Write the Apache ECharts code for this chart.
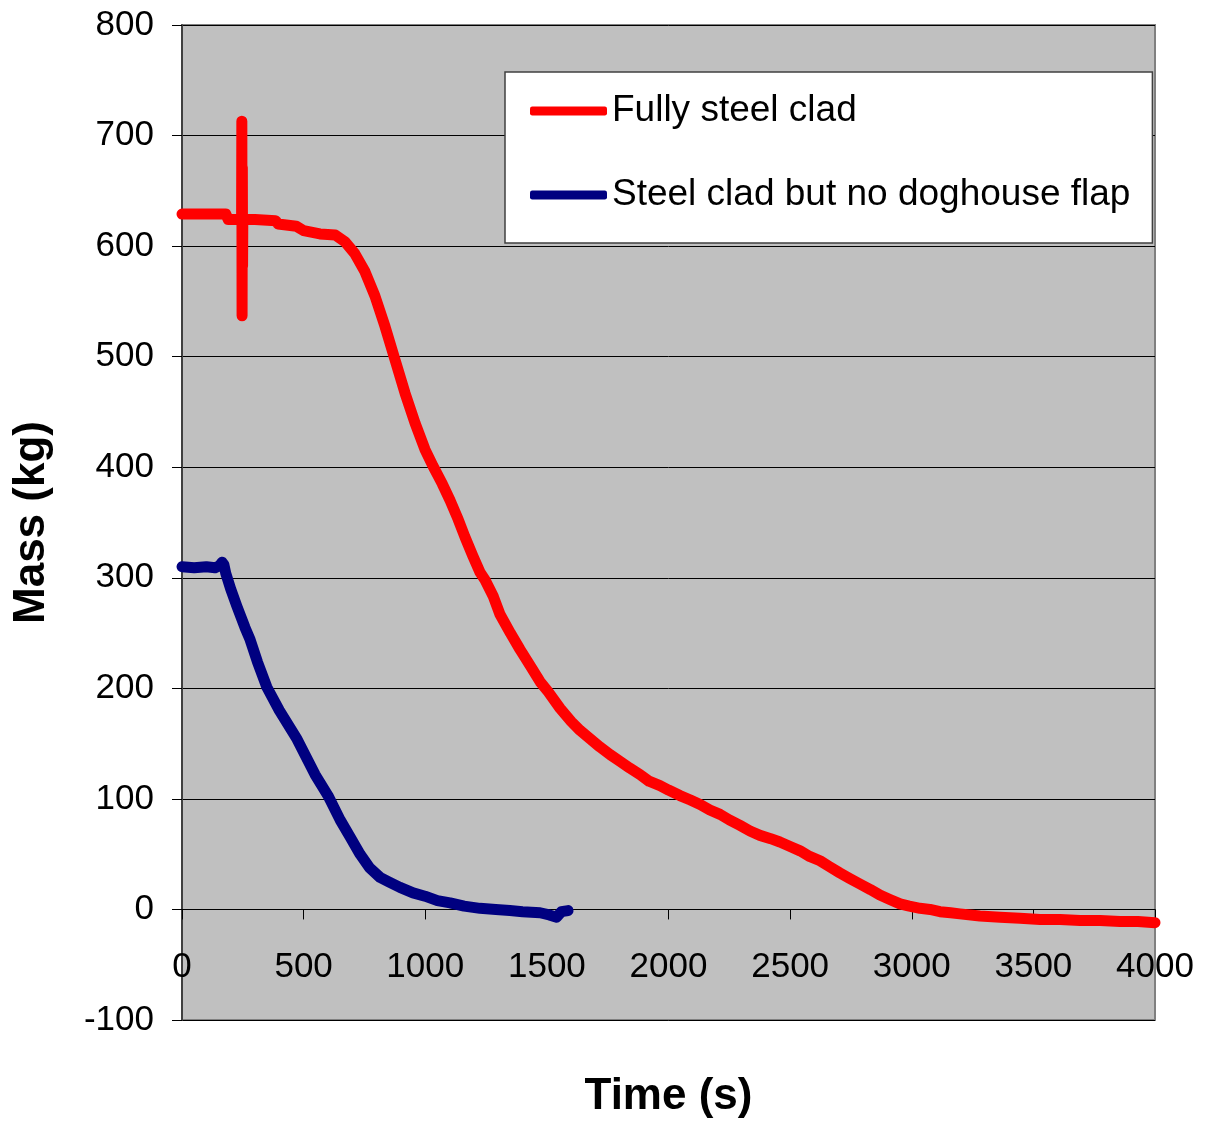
<!DOCTYPE html>
<html>
<head>
<meta charset="utf-8">
<script src="https://cdn.jsdelivr.net/npm/echarts@6/dist/echarts.min.js"></script>
<style>html,body{margin:0;padding:0;background:#fff}#c{width:1207px;height:1122px}</style>
</head>
<body>
<div id="c"></div>
<script>
const seriesNames = ['Fully steel clad', 'Steel clad but no doghouse flap'];
const timeRed = [0, 60, 120, 180, 190, 245, 246, 247, 248, 249, 250, 300, 385, 395, 470, 500, 567, 630, 670, 711, 752, 793, 835, 876, 917, 958, 999, 1032, 1070, 1102, 1135, 1163, 1195, 1225, 1246, 1280, 1307, 1350, 1390, 1430, 1472, 1505, 1554, 1600, 1636, 1680, 1718, 1760, 1800, 1840, 1883, 1920, 1965, 2000, 2047, 2090, 2130, 2170, 2212, 2250, 2294, 2335, 2376, 2420, 2458, 2500, 2541, 2580, 2623, 2660, 2705, 2745, 2787, 2830, 2869, 2910, 2952, 2990, 3034, 3075, 3116, 3160, 3198, 3280, 3363, 3445, 3527, 3610, 3692, 3775, 3856, 3930, 4000];
const massRed = [629, 629, 629, 629, 624, 624, 713, 537, 671, 582, 624, 624, 623, 620, 618, 614, 611, 610, 604, 593, 577, 555, 527, 497, 467, 440, 416, 401, 385, 370, 353, 337, 320, 305, 298, 283, 267, 250, 235, 221, 206, 197, 182, 170, 162, 154, 147, 140, 134, 128, 122, 116, 112, 108, 103, 99, 95, 90, 86, 81, 76, 71, 67, 64, 61, 57, 53, 48, 44, 39, 33, 28, 23, 18, 13, 9, 5, 3, 1, 0, -2, -3, -4, -6, -7, -8, -9, -9, -10, -10, -11, -11, -12];
const timeBlue = [0, 50, 100, 136, 155, 165, 172, 180, 200, 226, 259, 280, 310, 349, 400, 473, 547, 600, 650, 690, 732, 770, 814, 850, 896, 950, 999, 1050, 1102, 1160, 1225, 1290, 1348, 1400, 1472, 1510, 1540, 1560, 1587];
const massBlue = [310, 309, 310, 309, 311, 314, 312, 304, 290, 274, 255, 244, 224, 201, 180, 154, 122, 103, 81, 66, 50, 38, 29, 25, 20, 15, 12, 8, 6, 3, 1, 0, -1, -2, -3, -5, -7, -2, -1];
const xTicks = [0, 500, 1000, 1500, 2000, 2500, 3000, 3500, 4000];
const yTicks = [-100, 0, 100, 200, 300, 400, 500, 600, 700, 800];

const pairs = (t, m) => t.map((v, i) => [v, m[i]]);
const font = '"Liberation Sans", Arial, sans-serif';
const gridTop = 25, gridBottom = 102, chartH = 1122;
const plotH = chartH - gridTop - gridBottom;
const yMin = yTicks[0], yMax = yTicks[yTicks.length - 1];
// shift the x axis up so it crosses the y axis at 0
const xAxisOffset = -plotH * (0 - yMin) / (yMax - yMin);

const chart = echarts.init(document.getElementById('c'), null, {renderer: 'canvas'});
chart.setOption({
  animation: false,
  backgroundColor: '#ffffff',
  grid: {left: 182, top: gridTop, right: 52, bottom: gridBottom, containLabel: false, outerBoundsMode: 'none',
         show: true, backgroundColor: '#c0c0c0', borderColor: '#808080', borderWidth: 2},
  legend: {
    orient: 'vertical', left: 505, top: 72,
    backgroundColor: '#ffffff', borderColor: '#404040', borderWidth: 1.5,
    padding: [19, 22, 28, 25], itemGap: 44,
    itemWidth: 77, itemHeight: 9, icon: 'roundRect',
    textStyle: {fontFamily: font, fontSize: 37, color: '#000', lineHeight: 40},
    data: seriesNames
  },
  xAxis: {
    type: 'value', min: xTicks[0], max: xTicks[xTicks.length - 1], interval: 500,
    position: 'bottom', offset: xAxisOffset,
    axisLine: {onZero: false, lineStyle: {color: '#000', width: 1}},
    axisTick: {show: true, length: 10, lineStyle: {color: '#000'}},
    axisLabel: {fontFamily: font, fontSize: 35, color: '#000', margin: 40, showMaxLabel: true, showMinLabel: true,
                formatter: v => String(v)},
    splitLine: {show: false},
    name: 'Time (s)', nameLocation: 'middle', nameGap: 165,
    nameTextStyle: {fontFamily: font, fontSize: 44, fontWeight: 'bold', color: '#000'}
  },
  yAxis: {
    type: 'value', min: yMin, max: yMax, interval: 100,
    axisLine: {show: true, onZero: false, lineStyle: {color: '#404040', width: 2}},
    axisTick: {show: true, length: 10, lineStyle: {color: '#000'}},
    axisLabel: {fontFamily: font, fontSize: 35, color: '#000', margin: 28, formatter: v => String(v)},
    splitLine: {show: true, lineStyle: {color: '#000', width: 1}},
    name: 'Mass (kg)', nameLocation: 'middle', nameGap: 128, nameRotate: 90,
    nameTextStyle: {fontFamily: font, fontSize: 44, fontWeight: 'bold', color: '#000'}
  },
  series: [
    {name: seriesNames[0], type: 'line', data: pairs(timeRed, massRed), showSymbol: false, symbol: 'none',
     color: '#ff0000', lineStyle: {color: '#ff0000', width: 11, cap: 'round', join: 'round'}},
    {name: seriesNames[1], type: 'line', data: pairs(timeBlue, massBlue), showSymbol: false, symbol: 'none',
     color: '#000080', lineStyle: {color: '#000080', width: 11, cap: 'round', join: 'round'}}
  ]
});
</script>
</body>
</html>
